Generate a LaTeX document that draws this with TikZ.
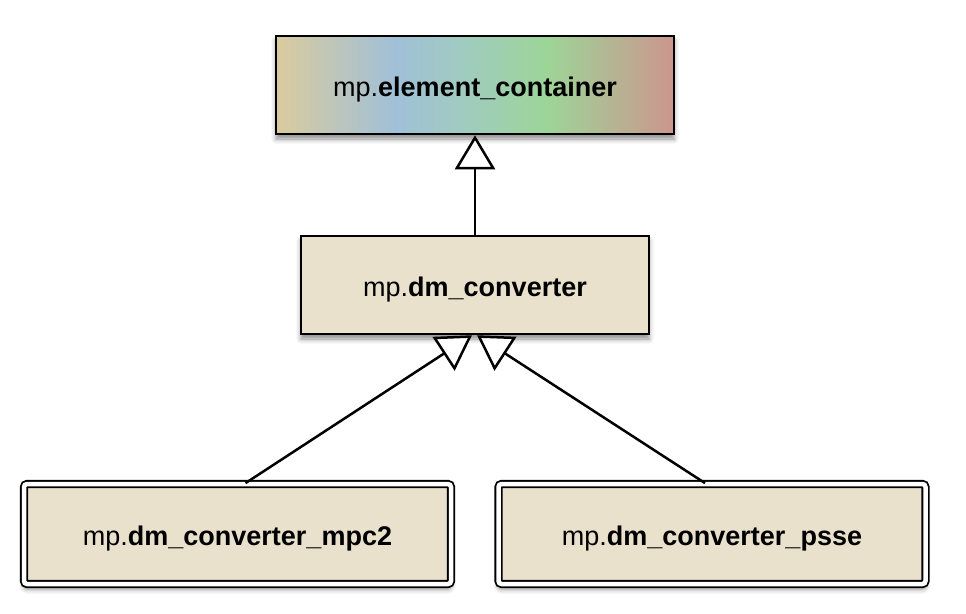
\documentclass[tikz,border=0pt]{standalone}
\usepackage{fontspec}
\setmainfont{Liberation Sans}
\usetikzlibrary{arrows.meta,shadows.blur}
\definecolor{boxfill}{HTML}{EAE1CD}
\definecolor{gA}{RGB}{218,203,158}
\definecolor{gB}{RGB}{160,192,216}
\definecolor{gC}{RGB}{160,204,190}
\definecolor{gD}{RGB}{157,213,152}
\definecolor{gE}{RGB}{204,150,142}
\pgfdeclarehorizontalshading{rainbowbox}{100bp}{color(0bp)=(gA); color(25bp)=(gA); color(40bp)=(gB); color(49bp)=(gC); color(59bp)=(gD); color(75bp)=(gE); color(100bp)=(gE)}
\begin{document}
\begin{tikzpicture}[x=1pt,y=-1pt,
  boxshadow/.style={blur shadow={shadow xshift=0pt, shadow yshift=-5pt, shadow blur radius=5pt, shadow opacity=45}},
  classbox/.style={draw=black, line width=2.5pt, fill=boxfill, inner sep=0pt,
    text height=22pt, text depth=0pt,
    font=\fontsize{27}{32}\selectfont, boxshadow},
  leafbox/.style={draw=black, line width=1.8pt, double=white, double distance=4.5pt,
    rounded corners=3pt, fill=boxfill, inner sep=0pt, minimum width=427pt, minimum height=100pt,
    text height=22pt, text depth=0pt,
    font=\fontsize{27}{32}\selectfont, boxshadow},
  inh/.style={line width=2.5pt, -{Triangle[length=34pt, width=40pt, fill=white]}}
]
\useasboundingbox (0,0) rectangle (966,613);

\node[classbox, shade, shading=rainbowbox, minimum width=398pt, minimum height=98pt] (top) at (475,85) {mp.\textbf{element\_container}};
\node[classbox, minimum width=348pt, minimum height=98pt] (conv) at (475,285) {mp.\textbf{dm\_converter}};
\node[leafbox] (mpc2) at (237.5,534) {mp.\textbf{dm\_converter\_mpc2}};
\node[leafbox] (psse) at (712,534) {mp.\textbf{dm\_converter\_psse}};

\draw[inh] (conv.north) -- (top.south);
\draw[inh] ([xshift=8pt]mpc2.north) -- ([xshift=-3pt]conv.south);
\draw[inh] ([xshift=-7pt]psse.north) -- ([xshift=2pt]conv.south);
\end{tikzpicture}
\end{document}
